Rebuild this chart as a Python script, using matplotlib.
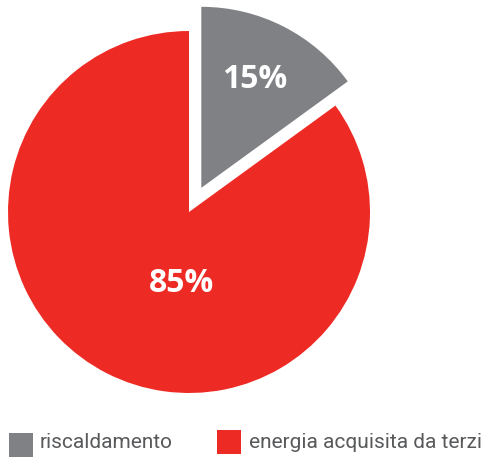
import matplotlib
matplotlib.use("Agg")
import matplotlib.pyplot as plt
from matplotlib.patches import Rectangle

categories = ["riscaldamento", "energia acquisita da terzi"]
values = [15, 85]
colors = ["#808184", "#EE2A24"]
pct_labels = ["15%", "85%"]

W, H = 482, 457
fig = plt.figure(figsize=(W / 100, H / 100), dpi=100)
fig.patch.set_facecolor("white")

cx, cy, r = 189, 212, 181
ax = fig.add_axes([(cx - r) / W, (H - cy - r) / H, 2 * r / W, 2 * r / H])

wedges, _ = ax.pie(values, colors=colors, startangle=90, counterclock=False,
                   explode=[0.15, 0], radius=1,
                   wedgeprops=dict(linewidth=0, clip_on=False))
ax.set_xlim(-1, 1)
ax.set_ylim(-1, 1)
ax.set_aspect("equal")
ax.axis("off")

# percentage labels
tx = [(255 - cx) / r, (181 - cx) / r]
ty = [(cy - 79) / r, (cy - 284) / r]
for lab, x, y in zip(pct_labels, tx, ty):
    ax.text(x, y, lab, ha="center", va="center", color="white",
            fontsize=23, fontweight="bold", family=["Open Sans", "DejaVu Sans"])

# legend
sq = 24
leg_x = [9, 217]
leg_y = [433, 430]
text_x = [40, 249]
for cat, col, lx, ly, tx_ in zip(categories, colors, leg_x, leg_y, text_x):
    fig.patches.append(Rectangle((lx / W, (H - ly - sq) / H), sq / W, sq / H,
                                 facecolor=col, edgecolor="none",
                                 transform=fig.transFigure, figure=fig))
    fig.text(tx_ / W, (H - 448) / H, cat, ha="left", va="baseline",
             fontsize=15, color="#58595B", family=["Roboto", "DejaVu Sans"])

fig.savefig("out.png", dpi=100, facecolor="white")
